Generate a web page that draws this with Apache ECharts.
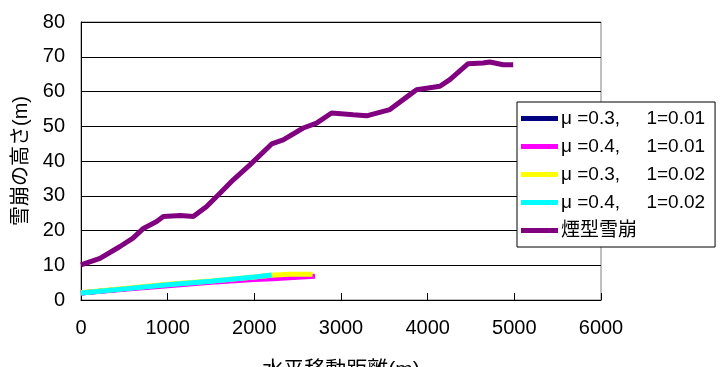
<!DOCTYPE html>
<html><head><meta charset="utf-8">
<script src="https://cdn.jsdelivr.net/npm/echarts@6/dist/echarts.min.js"></script>
<style>html,body{margin:0;padding:0;background:#fff}#c{width:724px;height:367px}</style>
</head><body><div id="c"></div>
<script>
const seriesNames = ['μ =0.3,     1=0.01','μ =0.4,     1=0.01','μ =0.3,     1=0.02','μ =0.4,     1=0.02','煙型雪崩'];
const colors = ['#000080','#FF00FF','#FFFF00','#00FFFF','#800080'];
const mu03_001 = [[0,2.0],[500,3.2],[1000,4.3],[1500,5.3],[2000,6.2],[2200,6.6]];
const mu04_001 = [[0,2.0],[500,3.1],[1000,4.1],[1500,5.1],[2000,5.9],[2215,6.1],[2450,6.5],[2700,6.8]];
const mu03_002 = [[0,2.1],[500,3.3],[1000,4.5],[1500,5.5],[2000,6.6],[2200,7.1],[2400,7.4],[2672,7.4]];
const mu04_002 = [[0,2.0],[500,3.2],[1000,4.4],[1500,5.4],[2000,6.6],[2200,7.2]];
const smoke = [[0,10.1],[219,12],[450,15.4],[600,17.8],[720,20.6],[873,22.6],[950,24],[1150,24.3],[1295,24],[1450,26.9],[1603,30.7],[1757,34.6],[1949,38.9],[2200,44.9],[2333,46.1],[2564,49.5],[2718,50.9],[2891,53.8],[3141,53.3],[3295,53.0],[3564,54.8],[3795,59.1],[3872,60.5],[4141,61.5],[4256,63.4],[4467,68.0],[4640,68.2],[4717,68.5],[4871,67.7],[4987,67.7]];
const dataSets = [mu03_001, mu04_001, mu03_002, mu04_002, smoke];
const xTicks = {min:0, max:6000, interval:1000};
const yTicks = {min:0, max:80, interval:10};
const font = "'Liberation Sans', 'Noto Sans CJK JP', sans-serif";
const chart = echarts.init(document.getElementById('c'));
chart.setOption({
  animation:false,
  backgroundColor:'#fff',
  grid:{left:81, top:22, right:123, bottom:67, show:true, borderColor:'#808080', borderWidth:1,
    containLabel:false, outerBoundsMode:'none'},
  legend:{
    data: seriesNames, left:517, top:102, orient:'vertical',
    padding:[7,10,7,4], itemGap:9, itemWidth:37, itemHeight:5, icon:'rect',
    borderColor:'#000', borderWidth:1, backgroundColor:'#fff', z:20,
    textStyle:{fontFamily:font, fontSize:19, color:'#000', padding:[0,0,0,-2]}
  },
  xAxis:{type:'value', min:xTicks.min, max:xTicks.max, interval:xTicks.interval,
    name:'水平移動距離(m)', nameLocation:'middle', nameGap:60,
    nameTextStyle:{fontFamily:font, fontSize:21, color:'#000'},
    axisLine:{lineStyle:{color:'#000', width:1}},
    axisTick:{inside:true, length:7, lineStyle:{color:'#000'}},
    axisLabel:{fontFamily:font, fontSize:20, color:'#000', margin:18, formatter:v=>String(v)},
    splitLine:{show:false}},
  yAxis:{type:'value', min:yTicks.min, max:yTicks.max, interval:yTicks.interval,
    name:'雪崩の高さ(m)', nameLocation:'middle', nameGap:48,
    nameTextStyle:{fontFamily:font, fontSize:20, color:'#000'},
    axisLine:{show:true, lineStyle:{color:'#000', width:1}},
    axisTick:{show:true, inside:true, length:7, lineStyle:{color:'#000'}},
    axisLabel:{fontFamily:font, fontSize:20, color:'#000', margin:16, formatter:v=>String(v)},
    splitLine:{show:true, lineStyle:{color:'#000', width:1}}},
  series: seriesNames.map((n,i)=>({
    name:n, type:'line', data:dataSets[i], symbol:'none', smooth:false,
    color:colors[i], lineStyle:{width:5, color:colors[i]}, z:2+i
  }))
});
</script></body></html>
